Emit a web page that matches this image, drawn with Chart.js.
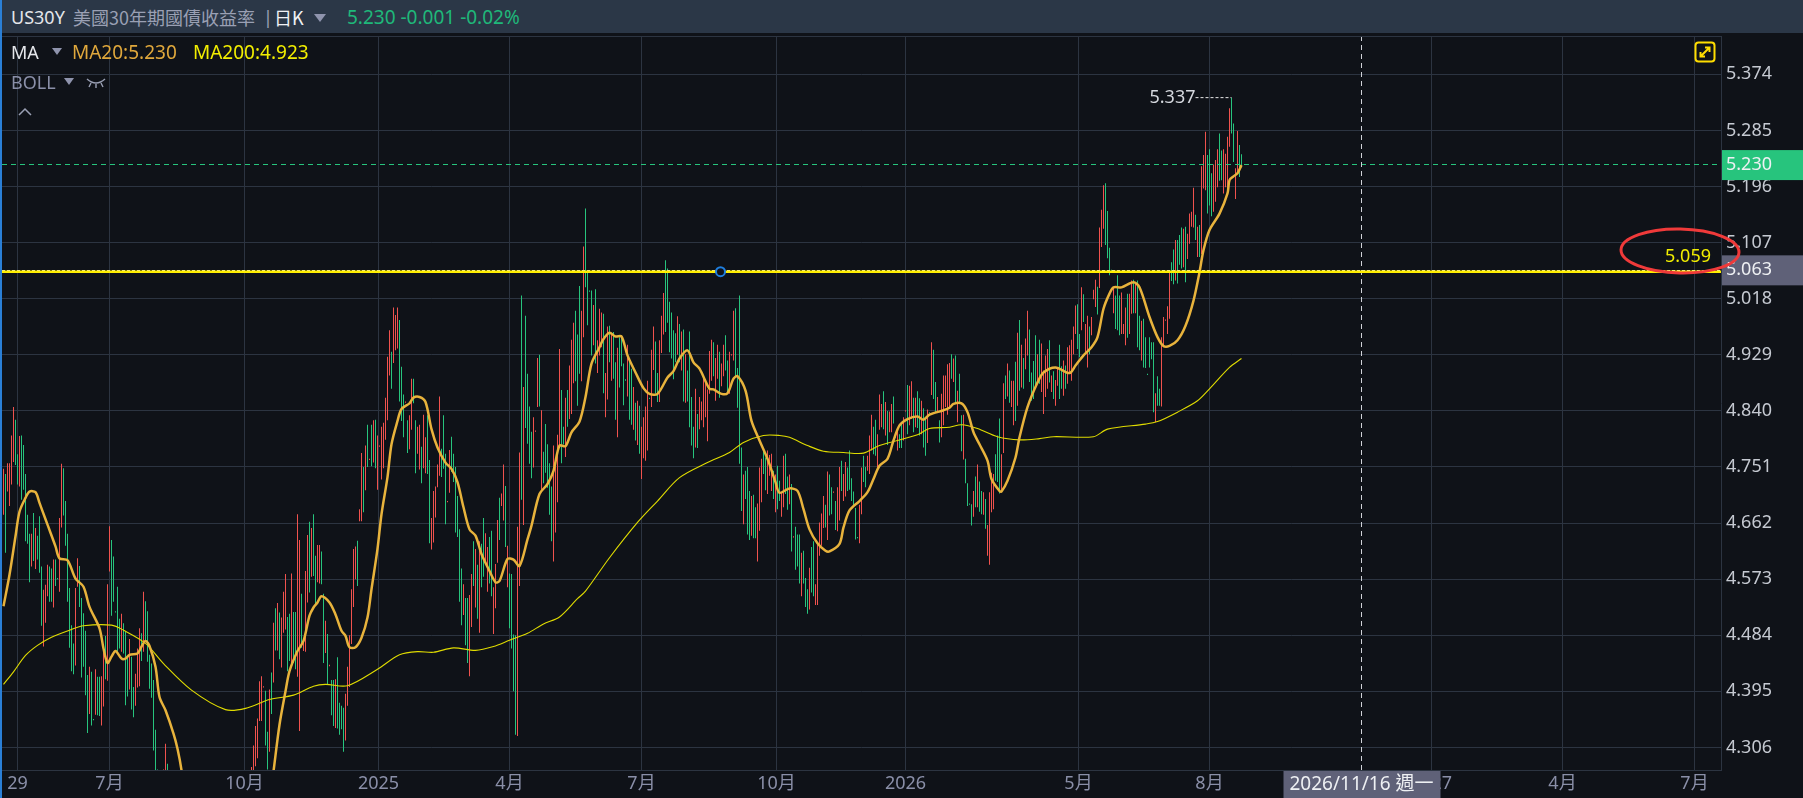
<!DOCTYPE html>
<html>
<head>
<meta charset="utf-8">
<title>US30Y</title>
<script src="https://cdn.jsdelivr.net/npm/chart.js@4"></script>
<style>
html, body { margin: 0; padding: 0; background: #0f1218; overflow: hidden; }
#wrap { position: relative; width: 1803px; height: 798px; font-family: "Noto Sans", "Noto Sans CJK TC", sans-serif; }
canvas { position: absolute; left: 0; top: 0; }
#blue { position: absolute; left: 0; top: 0; width: 2px; height: 798px; background: #2a7fd6; }
#head { position: absolute; left: 2px; top: 0; width: 1801px; height: 33px; background: #2b3747; }
#topline { position: absolute; left: 2px; top: 36px; width: 1719px; height: 1px; background: #2c3441; }
.t { position: absolute; white-space: nowrap; line-height: 24px; font-size: 18px; }
.tri { position: absolute; width: 0; height: 0; border-left: 6px solid transparent; border-right: 6px solid transparent; border-top: 8px solid #8f94ad; }
svg { position: absolute; }
</style>
</head>
<body>
<div id="wrap">
  <canvas id="chart" width="1803" height="798"></canvas>
  <div id="blue"></div>
  <div id="head"></div>
  <div id="topline"></div>
  <span class="t" style="left:11px;top:5px;color:#e4e6ea">US30Y</span>
  <span class="t" style="left:73px;top:5px;color:#9aa0b4;font-size:18px;font-family:'Noto Sans CJK TC'">美國30年期國債收益率</span>
  <span class="t" style="left:263px;top:5px;color:#9aa0b4">|</span>
  <span class="t" style="left:274px;top:5px;color:#f0f1f4;font-family:'Noto Sans CJK TC'">日K</span>
  <div class="tri" style="left:314px;top:14px"></div>
  <span class="t" style="left:347px;top:5px;color:#1fb87a;font-size:19px">5.230 -0.001 -0.02%</span>
  <span class="t" style="left:11px;top:40px;color:#e4e6ea">MA</span>
  <div class="tri" style="left:52px;top:48px;border-left-width:5px;border-right-width:5px;border-top-width:7px"></div>
  <span class="t" style="left:72px;top:40px;color:#e0a83c;font-size:19px">MA20:5.230</span>
  <span class="t" style="left:193px;top:40px;color:#f2ee00;font-size:19px">MA200:4.923</span>
  <span class="t" style="left:11px;top:70px;color:#8a8fa8">BOLL</span>
  <div class="tri" style="left:64px;top:78px;border-left-width:5px;border-right-width:5px;border-top-width:7px"></div>
  <svg style="left:86px;top:76px" width="20" height="14" fill="none" stroke="#9aa0b4" stroke-width="1.4"><path d="M1 3 Q10 11 19 3 M5 7 L3 11 M10 8 L10 12 M15 7 L17 11"/></svg>
  <svg style="left:18px;top:107px" width="14" height="10" fill="none" stroke="#9aa0b4" stroke-width="1.5"><path d="M1 8 L7 2 L13 8"/></svg>
  <svg style="left:1694px;top:41px" width="22" height="22" fill="none" stroke="#ffdd00" stroke-width="2"><rect x="1.5" y="1.5" width="19" height="19" rx="3"/><path d="M7 15 L15 7 M11 6.5 H15.5 V11 M6.5 11 V15.5 H11"/></svg>
</div>
<script>
// price scale
const yTickValues = [5.374, 5.285, 5.196, 5.107, 5.018, 4.929, 4.840, 4.751, 4.662, 4.573, 4.484, 4.395, 4.306];
const yTickLabels = ['5.374', '5.285', '5.196', '5.107', '5.018', '4.929', '4.840', '4.751', '4.662', '4.573', '4.484', '4.395', '4.306'];

// time axis, positions are bar numbers
const xTickBars = [7, 53, 120.5, 187.5, 253, 319, 386.5, 451, 537.5, 603, 714, 779.5, 845.5];
const xTickLabels = ['29', '7月', '10月', '2025', '4月', '7月', '10月', '2026', '5月', '8月', '2027', '4月', '7月'];

// daily highs, ten bars a row, null where the bar is below the visible range
const barHighs = [
  4.748,4.740,4.757,4.757,4.801,4.846,4.826,4.771,4.800,4.801,
  4.786,4.740,4.675,4.645,4.645,4.678,4.654,4.642,4.673,4.593,
  4.556,4.564,4.596,4.593,4.590,4.604,4.604,4.575,4.670,4.756,
  4.749,4.697,4.645,4.559,4.500,4.471,4.559,4.606,4.594,4.543,
  4.519,4.491,4.421,4.434,4.426,4.351,4.430,4.418,4.418,4.419,
  4.460,4.483,4.565,4.657,4.635,4.609,4.522,4.561,4.510,4.518,
  4.503,4.490,4.450,4.478,4.450,4.402,4.423,4.463,4.495,4.487,
  4.553,4.538,4.522,4.453,4.439,4.413,4.334,4.271,null,null,
  4.271,4.312,4.280,null,null,null,null,null,null,null,
  null,null,null,null,null,null,null,null,null,null,
  null,null,null,null,null,null,null,null,null,null,
  null,null,null,null,null,null,null,null,null,null,
  null,null,null,null,4.275,4.309,4.340,4.352,4.411,4.419,
  4.403,4.396,4.331,4.398,4.425,4.504,4.527,4.535,4.520,4.512,
  4.553,4.581,4.513,4.518,4.582,4.521,4.521,4.676,4.635,4.550,
  4.475,4.586,4.643,4.664,4.654,4.676,4.610,4.627,4.627,4.617,
  4.550,4.507,4.486,4.437,4.413,4.413,4.414,4.449,4.377,4.372,
  4.369,4.391,4.434,4.484,4.557,4.621,4.625,4.634,4.684,4.773,
  4.751,4.785,4.818,4.764,4.818,4.825,4.826,4.801,4.785,4.815,
  4.821,4.861,4.926,4.968,4.934,5.004,4.992,5.004,4.984,4.910,
  4.866,4.855,4.825,4.833,4.891,4.891,4.825,4.815,4.818,4.783,
  4.834,4.798,4.833,4.762,4.670,4.713,4.720,4.755,4.863,4.780,
  4.833,4.772,4.697,4.778,4.799,4.772,4.751,4.705,4.652,4.590,
  4.565,4.543,4.543,4.548,4.581,4.633,4.621,4.596,4.633,4.629,
  4.670,4.646,4.624,4.640,4.650,4.560,4.597,4.667,4.702,4.709,
  4.755,4.721,4.626,4.582,4.581,4.485,4.484,4.656,4.774,5.023,
  4.878,4.991,4.899,4.847,4.807,4.830,4.809,4.924,4.929,4.841,
  4.775,4.819,4.787,4.757,4.720,4.785,4.761,4.802,4.938,4.873,
  4.815,4.861,4.873,4.912,4.953,4.980,4.999,4.961,5.038,4.999,
  5.101,5.161,5.059,5.031,5.031,5.008,5.033,4.952,5.002,4.996,
  4.994,4.900,4.974,4.975,4.961,4.965,4.917,4.940,4.957,4.960,
  4.915,4.890,4.945,4.923,4.907,4.878,4.853,4.856,4.848,4.815,
  4.830,4.847,4.888,4.861,4.937,4.974,4.950,4.900,4.952,4.991,
  5.027,5.079,5.066,5.013,4.996,4.968,4.963,4.990,4.978,4.966,
  4.969,4.930,4.904,4.966,4.862,4.815,4.875,4.835,4.862,4.855,
  4.891,4.887,4.874,4.935,4.953,4.949,4.924,4.945,4.934,4.915,
  4.945,4.960,4.920,4.934,4.930,4.999,5.003,4.908,5.023,4.782,
  4.739,4.745,4.751,4.713,4.705,4.707,4.687,4.693,4.750,4.764,
  4.779,4.766,4.777,4.770,4.772,4.745,4.739,4.753,4.729,4.711,
  4.769,4.772,4.736,4.739,4.724,4.641,4.656,4.644,4.644,4.615,
  4.618,4.575,4.557,4.591,4.624,4.633,4.565,4.629,4.663,4.677,
  4.705,4.691,4.744,4.739,4.719,4.712,4.697,4.719,4.751,4.761,
  4.740,4.759,4.750,4.777,4.733,4.712,4.686,4.640,4.691,4.750,
  4.769,4.751,4.769,4.801,4.834,4.815,4.826,4.803,4.866,4.851,
  4.871,4.854,4.840,4.839,4.851,4.863,4.799,4.811,4.803,4.820,
  4.830,4.841,4.881,4.880,4.887,4.861,4.861,4.871,4.860,4.856,
  4.844,4.830,4.842,4.838,4.949,4.937,4.886,4.862,4.825,4.867,
  4.896,4.896,4.914,4.916,4.930,4.923,4.928,4.872,4.899,4.833,
  4.834,4.764,4.725,4.693,4.692,4.713,4.736,4.755,4.728,4.713,
  4.711,4.700,4.659,4.711,4.742,4.740,4.771,4.801,4.828,4.771,
  4.884,4.896,4.915,4.904,4.888,4.888,4.918,4.964,4.984,4.945,
  4.924,4.955,4.999,4.969,4.901,4.919,4.960,4.930,4.953,4.947,
  4.904,4.928,4.938,4.952,4.896,4.903,4.889,4.909,4.945,4.911,
  4.920,4.912,4.941,4.944,4.953,4.974,5.007,5.009,4.962,5.036,
  5.025,4.978,4.991,4.974,4.989,5.032,5.048,5.037,5.131,5.159,
  5.198,5.201,5.157,5.099,5.064,5.036,5.023,5.055,5.023,5.028,
  4.978,5.004,5.026,5.026,5.047,5.048,5.044,5.047,4.991,4.983,
  4.986,4.957,4.899,4.957,4.949,4.949,4.868,4.895,4.875,4.957,
  4.989,4.985,5.006,5.059,5.076,5.096,5.111,5.111,5.119,5.131,
  5.129,5.132,5.121,5.153,5.156,5.194,5.151,5.132,5.135,5.228,
  5.246,5.283,5.246,5.255,5.217,5.231,5.238,5.255,5.280,5.253,
  5.255,5.248,5.275,5.320,5.337,5.296,5.225,5.284,5.262,5.247
];

const barLows = [
  4.675,4.615,4.712,4.689,4.723,4.759,4.754,4.723,4.720,4.699,
  4.715,4.633,4.629,4.568,4.593,4.602,4.589,4.604,4.583,4.499,
  4.466,4.504,4.546,4.537,4.537,4.528,4.562,4.573,4.553,4.655,
  4.674,4.626,4.537,4.464,4.427,4.422,4.436,4.561,4.529,4.417,
  4.434,4.389,4.329,4.359,4.341,4.349,4.358,4.357,4.356,4.341,
  4.371,4.414,4.412,4.585,4.515,4.537,4.520,4.458,4.463,4.458,
  4.455,4.373,4.387,4.398,4.366,4.354,4.372,4.401,4.403,4.443,
  4.458,4.476,4.442,4.399,4.385,4.301,4.240,4.240,null,null,
  4.240,4.240,4.240,null,null,null,null,null,null,null,
  null,null,null,null,null,null,null,null,null,null,
  null,null,null,null,null,null,null,null,null,null,
  null,null,null,null,null,null,null,null,null,null,
  null,null,null,null,4.240,4.240,4.276,4.289,4.348,4.348,
  4.401,4.309,4.271,4.299,4.359,4.409,4.460,4.460,4.446,4.433,
  4.488,4.493,4.427,4.443,4.435,4.440,4.430,4.418,4.332,4.464,
  4.459,4.458,4.536,4.552,4.577,4.578,4.533,4.568,4.566,4.565,
  4.440,4.456,4.406,4.435,4.357,4.340,4.337,4.336,4.326,4.335,
  4.299,4.317,4.372,4.402,4.470,4.529,4.573,4.562,4.665,4.665,
  4.679,4.714,4.751,4.762,4.752,4.758,4.749,4.715,4.783,4.731,
  4.749,4.794,4.825,4.896,4.875,4.916,4.936,4.939,4.855,4.824,
  4.798,4.853,4.773,4.779,4.810,4.852,4.741,4.772,4.747,4.725,
  4.749,4.741,4.740,4.630,4.620,4.631,4.671,4.719,4.737,4.735,
  4.748,4.660,4.695,4.710,4.743,4.727,4.647,4.640,4.537,4.500,
  4.516,4.468,4.440,4.419,4.497,4.562,4.528,4.510,4.488,4.560,
  4.577,4.599,4.553,4.566,4.546,4.486,4.527,4.599,4.635,4.689,
  4.666,4.624,4.560,4.495,4.463,4.395,4.326,4.324,4.562,4.699,
  4.659,4.813,4.788,4.756,4.733,4.750,4.807,4.846,4.847,4.713,
  4.725,4.742,4.718,4.675,4.633,4.601,4.647,4.695,4.786,4.757,
  4.787,4.767,4.815,4.827,4.835,4.884,4.887,4.848,4.899,4.887,
  4.957,5.036,4.976,5.029,4.928,4.944,4.915,4.900,4.928,4.941,
  4.868,4.830,4.858,4.917,4.888,4.891,4.826,4.798,4.877,4.911,
  4.849,4.888,4.863,4.826,4.818,4.810,4.793,4.786,4.772,4.732,
  4.765,4.761,4.777,4.859,4.846,4.905,4.867,4.854,4.854,4.932,
  4.961,4.965,4.980,4.933,4.923,4.890,4.917,4.929,4.917,4.904,
  4.855,4.853,4.855,4.814,4.785,4.765,4.782,4.781,4.811,4.825,
  4.814,4.830,4.792,4.867,4.888,4.895,4.856,4.891,4.861,4.879,
  4.895,4.904,4.867,4.867,4.928,4.920,4.893,4.845,4.756,4.681,
  4.660,4.700,4.644,4.635,4.642,4.638,4.638,4.601,4.650,4.695,
  4.740,4.714,4.708,4.737,4.713,4.700,4.679,4.684,4.697,4.672,
  4.687,4.708,4.683,4.692,4.617,4.639,4.588,4.593,4.566,4.546,
  4.566,4.529,4.518,4.525,4.552,4.546,4.532,4.532,4.610,4.626,
  4.654,4.655,4.635,4.674,4.676,4.710,4.651,4.649,4.666,4.713,
  4.697,4.704,4.713,4.715,4.697,4.688,4.636,4.638,4.630,4.676,
  4.727,4.719,4.745,4.740,4.777,4.771,4.769,4.747,4.810,4.814,
  4.811,4.801,4.786,4.806,4.806,4.820,4.797,4.777,4.781,4.781,
  4.793,4.839,4.803,4.817,4.827,4.806,4.814,4.813,4.801,4.803,
  4.782,4.769,4.789,4.836,4.865,4.859,4.838,4.838,4.790,4.798,
  4.817,4.846,4.834,4.846,4.891,4.886,4.851,4.822,4.851,4.776,
  4.763,4.725,4.689,4.691,4.658,4.672,4.687,4.687,4.680,4.676,
  4.675,4.653,4.610,4.596,4.679,4.684,4.729,4.727,4.709,4.712,
  4.773,4.859,4.863,4.853,4.846,4.817,4.824,4.848,4.872,4.877,
  4.875,4.906,4.928,4.886,4.856,4.859,4.880,4.883,4.883,4.870,
  4.835,4.862,4.875,4.885,4.870,4.859,4.848,4.880,4.859,4.875,
  4.864,4.875,4.883,4.899,4.888,4.930,4.962,4.938,4.925,4.968,
  4.981,4.930,4.909,4.930,4.960,5.017,5.005,4.993,5.035,5.100,
  5.129,5.103,5.082,5.055,5.062,4.995,4.970,4.968,4.960,4.962,
  4.962,4.944,4.956,4.962,4.994,4.995,4.995,4.941,4.936,4.920,
  4.909,4.908,4.897,4.909,4.922,4.838,4.822,4.848,4.848,4.847,
  4.941,4.983,4.962,4.986,5.046,5.041,5.047,5.042,5.072,5.066,
  5.068,5.044,5.081,5.105,5.132,5.131,5.111,5.084,5.084,5.089,
  5.193,5.190,5.153,5.166,5.149,5.156,5.172,5.195,5.205,5.206,
  5.185,5.195,5.190,5.259,5.280,5.235,5.176,5.217,5.211,5.226
];

// R closed up, G closed down, ten bars a group
const barDirections = [
  'RGRRRRGGRG','GGGGRGRGGG','RRRGGRGGRR','GGGGGGRRGG','GGGRGGRGGR','RGRRGGGGGR','GGGRGGRRRG','RGGGGGGGGG',
  'RRGRRRRRRR','RRRRRRRRRR','RRRRRRRRRR','RRRRRRRRRR','RRRRRRRRRR','RGGRGRGRGR','RRGGRGGRRG','RRRGRGGRRG',
  'GRGRGGRGGG','GRRRRRRGRR','GRGRGRGRRR','RRRRGRRRGG','GRGRRGGRRG','RRGGRRRRRG','GGRRGGGGGG','RGGRRGRGRG',
  'GRRGGRRRGR','RGRGGGGRRG','RGGGGRRRGR','GGGGGRRRRG','GRGRRRGGGR','RGGGGRGRRR','GRRGRGGRGG','GGRGGRGRGR',
  'RRRGRRGGRR','RGGGGGGRGR','GRGGGGRGRR','RRRRRGRRGR','RGGRRRGGGG','RGGGRGGRRR','GGRRRGRGGR','RGGRGRGGGR',
  'GGGRGGRRRR','RGRGGRGRRG','RRGGGGGGRR','GGRRRGGRRR','GRGRRGGRGG','RRGRRGRGGR','GGRGRGGRGR','RRRRGRGRGG',
  'RGGGGRGRGG','RGRRRRGGGR','RGRGRRGRGR','GRRGGGGRGR','RRRGRGRRGG','RGRRRRRGGR','GRRGRRRGRR','RGGGGRGGGR',
  'RRGRRGRGGR','GGGGGGRGGR','RRRRGGRGGG','RGRRRRGRGR','RRGGGRRRGG','RRRRGGRRGG'
].join('');

// MA20, read at these bars, the null is the stretch below the visible range
const ma20Bars = [0,3,6,8,11,13,16,18,21,23,26,28,32,36,40,43,48,50,52,54,56,59,61,63,67,69,71,73,76,78,81,85,87,89,91,
  112,133,135,138,141,143,147,150,153,155,157,159,163,166,169,171,173,176,179,182,184,187,189,192,194,197,199,203,205,208,211,214,217,221,224,227,230,233,236,239,243,246,248,252,255,
  258,262,264,268,272,275,278,281,284,288,291,294,298,300,303,306,309,312,316,320,323,327,332,335,338,342,345,348,353,355,359,362,365,367,371,374,378,382,
  386,388,393,397,400,403,407,411,413,418,420,423,428,432,435,438,442,445,448,452,457,460,463,470,473,475,479,482,485,488,492,494,498,499,502,506,508,512,
  517,520,526,533,536,540,544,547,550,553,555,559,565,568,573,577,580,583,587,591,595,598,600,603,608,612,613,615,617,619];
const ma20Values = [4.530,4.580,4.641,4.680,4.702,4.712,4.711,4.694,4.668,4.651,4.625,4.606,4.603,4.574,4.561,4.529,4.495,4.463,4.440,4.450,4.459,4.447,4.447,4.453,4.455,4.466,4.475,4.467,4.434,4.386,4.365,4.328,4.304,4.270,4.220,
  null,4.220,4.268,4.342,4.395,4.427,4.459,4.475,4.515,4.528,4.536,4.546,4.536,4.517,4.491,4.483,4.465,4.465,4.480,4.512,4.557,4.621,4.676,4.735,4.787,4.824,4.843,4.852,4.861,4.862,4.854,4.811,4.782,4.758,4.748,4.727,4.687,4.652,4.642,4.613,4.586,4.568,4.570,4.605,4.604,
  4.594,4.636,4.658,4.708,4.724,4.745,4.785,4.784,4.806,4.823,4.862,4.915,4.941,4.954,4.964,4.958,4.958,4.928,4.901,4.876,4.867,4.867,4.893,4.903,4.923,4.936,4.917,4.907,4.875,4.874,4.867,4.868,4.891,4.895,4.872,4.824,4.793,4.764,
  4.727,4.710,4.717,4.713,4.684,4.652,4.630,4.618,4.617,4.629,4.655,4.682,4.697,4.711,4.732,4.753,4.764,4.793,4.817,4.827,4.831,4.826,4.834,4.841,4.845,4.851,4.852,4.838,4.806,4.787,4.761,4.732,4.713,4.712,4.729,4.766,4.798,4.846,
  4.885,4.901,4.909,4.900,4.912,4.928,4.941,4.957,5.002,5.026,5.036,5.036,5.044,5.036,4.989,4.957,4.943,4.943,4.952,4.975,5.015,5.060,5.095,5.127,5.153,5.185,5.206,5.212,5.217,5.230];

// MA200, read at these bars
const ma200Bars = [0,5,11,17,24,33,40,54,60,71,80,94,111,121,133,145,155,161,172,187,198,207,215,225,236,245,253,262,270,278,287,291,303,317,327,338,352,363,370,380,388,
  393,402,410,420,430,438,457,463,473,479,487,497,508,518,525,545,552,571,577,587,597,603,613,619];
const ma200Values = [4.406,4.426,4.452,4.468,4.481,4.492,4.499,4.500,4.492,4.471,4.439,4.397,4.366,4.368,4.382,4.389,4.403,4.406,4.404,4.430,4.453,4.458,4.457,4.464,4.460,4.466,4.476,4.487,4.502,4.513,4.542,4.554,4.607,4.663,4.697,4.734,4.758,4.774,4.790,4.801,4.801,
  4.798,4.785,4.776,4.774,4.773,4.785,4.802,4.812,4.814,4.818,4.812,4.799,4.794,4.796,4.799,4.799,4.811,4.819,4.823,4.838,4.856,4.875,4.909,4.923];

const lastPrice = 5.230;
const lastPriceLine = 5.2309;
const drawnLevel = 5.0608;
const crossPrice = 5.063;
const crossLine = 5.0627;
const drawnLabel = '5.059';
const drawnHandleBar = 358.5;
const highBar = 614;
const highLabelBar = 596;
const highPrice = 5.337;
const crossBar = 679;
const crossDate = '2026/11/16 週一';
const lastBarSlot = 858.75;
const yMin = 4.2702;
const yMax = 5.4348;

const GREEN = '#27c47d';
const RED = '#f0524e';
const BACKDROP = '#0f1218';
const GRID = '#2c3441';
const FONT = '"Noto Sans", "Noto Sans CJK TC", sans-serif';

const candleData = [];
const candleColors = [];
barHighs.forEach((high, i) => {
    if (high === null) return;
    candleData.push({ x: i, y: [barLows[i], high] });
    candleColors.push(barDirections[i] === 'R' ? RED : GREEN);
});

function pairs(xs, ys) {
    return xs.map((x, i) => ({ x, y: ys[i] }));
}

function level(y, color, width, dash, order) {
    return {
        type: 'line',
        data: [{ x: -0.75, y }, { x: lastBarSlot, y }],
        borderColor: color,
        borderWidth: width,
        borderDash: dash,
        pointRadius: 0,
        order,
    };
}

// axis tags, the hand drawn ring and the text annotations
const overlayPlugin = {
    id: 'overlay',
    afterDraw(chart) {
        const { ctx, scales } = chart;
        const x = scales.x;
        const y = scales.y;
        const tag = (value, fill) => {
            const py = y.getPixelForValue(value);
            ctx.fillStyle = fill;
            ctx.fillRect(1722, py - 15, 81, 30);
            ctx.fillStyle = '#eef0f3';
            ctx.fillText(value.toFixed(3), 1726, py);
        };
        ctx.save();
        ctx.font = '18px ' + FONT;
        ctx.textBaseline = 'middle';
        ctx.textAlign = 'left';
        tag(lastPrice, GREEN);
        tag(crossPrice, '#5f6178');

        ctx.fillStyle = '#d5d8de';
        ctx.textAlign = 'right';
        ctx.fillText(highPrice.toFixed(3), x.getPixelForValue(highLabelBar), y.getPixelForValue(highPrice));

        ctx.fillStyle = '#f2ee00';
        ctx.fillText(drawnLabel, 1711, y.getPixelForValue(drawnLevel) - 15);

        ctx.strokeStyle = '#f03a3a';
        ctx.lineWidth = 3;
        ctx.beginPath();
        ctx.ellipse(1680, 251, 59, 22, 0.02, 0, Math.PI * 2);
        ctx.stroke();

        const cx = x.getPixelForValue(crossBar);
        ctx.fillStyle = '#5f6178';
        ctx.fillRect(cx - 78, 771, 157, 27);
        ctx.fillStyle = '#eef0f3';
        ctx.textAlign = 'center';
        ctx.font = '19px ' + FONT;
        ctx.fillText(crossDate, cx, 785);
        ctx.restore();
    }
};

new Chart(document.getElementById('chart'), {
    type: 'bar',
    plugins: [overlayPlugin],
    data: {
        datasets: [
            { type: 'bar', data: candleData, backgroundColor: candleColors, barThickness: 1, inflateAmount: 0, order: 6 },
            { type: 'line', data: pairs(ma200Bars, ma200Values), borderColor: '#e0dc00', borderWidth: 1.1, pointRadius: 0, tension: 0.3, order: 4 },
            { type: 'line', data: pairs(ma20Bars, ma20Values), borderColor: '#e8b33c', borderWidth: 2.5, pointRadius: 0, tension: 0.3, order: 3 },
            level(lastPriceLine, GREEN, 1, [5, 4], 5),
            level(crossLine, '#e8e8e8', 1, [3, 2], 2),
            level(drawnLevel, '#ffee00', 2.5, [], 1),
            { type: 'line', data: [{ x: highLabelBar, y: highPrice }, { x: highBar, y: highPrice }], borderColor: '#e8e8e8', borderWidth: 1, borderDash: [3, 2], pointRadius: 0, order: 2 },
            { type: 'line', data: [{ x: crossBar, y: yMin }, { x: crossBar, y: yMax }], borderColor: '#d0d2d8', borderWidth: 1, borderDash: [5, 4], pointRadius: 0, order: 2 },
            { type: 'line', data: [{ x: drawnHandleBar, y: drawnLevel }], showLine: false, pointRadius: 4.5, pointBorderWidth: 2, pointBorderColor: '#1f7fe0', pointBackgroundColor: BACKDROP, order: 0 },
        ],
    },
    options: {
        responsive: false,
        animation: false,
        devicePixelRatio: 1,
        layout: { autoPadding: false, padding: { left: 2, top: 36, right: 0, bottom: 0 } },
        plugins: { legend: { display: false }, tooltip: { enabled: false } },
        scales: {
            x: {
                type: 'linear',
                min: -0.75,
                max: lastBarSlot,
                offset: false,
                afterBuildTicks: scale => { scale.ticks = xTickBars.map(value => ({ value })); },
                afterFit: scale => { scale.height = 28; scale.paddingLeft = 0; scale.paddingRight = 0; },
                grid: { color: GRID, drawTicks: false, offset: false },
                border: { color: GRID },
                ticks: {
                    autoSkip: false,
                    maxRotation: 0,
                    padding: 3,
                    color: '#8a8fa8',
                    font: { family: FONT, size: 18 },
                    callback: (value, index) => xTickLabels[index],
                },
            },
            y: {
                position: 'right',
                min: yMin,
                max: yMax,
                afterBuildTicks: scale => { scale.ticks = yTickValues.map(value => ({ value })); },
                afterFit: scale => { scale.width = 82; scale.paddingTop = 0; scale.paddingBottom = 0; },
                grid: { color: GRID, drawTicks: false },
                border: { color: GRID },
                ticks: {
                    padding: 5,
                    color: '#c5c9d1',
                    font: { family: FONT, size: 18 },
                    callback: (value, index) => yTickLabels[index],
                },
            },
        },
    },
});
</script>
</body>
</html>
